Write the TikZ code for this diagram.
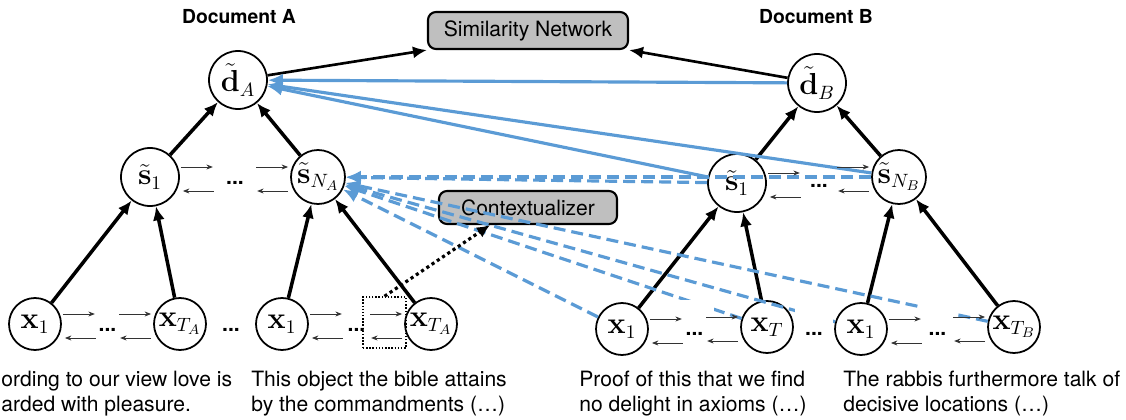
\documentclass[tikz,border=0pt]{standalone}
\usepackage{amsmath,amssymb}
\usepackage[no-math]{fontspec}
\setmainfont{TeX Gyre Heros}
\usetikzlibrary{arrows.meta,calc}
\definecolor{attn}{HTML}{5B9BD5}

\begin{document}
\begin{tikzpicture}[x=0.2mm,y=-0.2mm,
	doc/.style={circle,draw,line width=1pt,fill=white,inner sep=0pt,minimum size=11.6mm,font=\fontsize{16}{18}\selectfont},
	sent/.style={doc,minimum size=10.8mm},
	word/.style={doc,minimum size=10.4mm},
	netbox/.style={draw,line width=1.2pt,rounded corners=1.6mm,fill=gray!50,inner sep=0pt,font=\fontsize{12}{14}\selectfont},
	feed/.style={-{Latex[length=2.8mm,width=2.4mm]},line width=2pt},
	seq/.style={-{Stealth[length=1.3mm,width=1mm]},line width=0.5pt,black!80},
	attnline/.style={-{Latex[length=3mm,width=2.6mm]},line width=1.8pt,attn},
	attndash/.style={attnline,dash pattern=on 2.4mm off 1.2mm},
	sdots/.style={anchor=base,inner sep=0pt,font=\fontsize{12}{14}\selectfont\bfseries},
	xdots/.style={sdots,fill=white,minimum width=7.6mm,text height=7mm,text depth=1.5mm},
	txt/.style={anchor=north west,align=left,inner sep=0pt,font=\fontsize{12}{14.2}\selectfont},
	heading/.style={font=\fontsize{11}{13}\selectfont\bfseries}]
	\useasboundingbox (0,0) rectangle (1126,419);

	% headings and networks
	\node[heading] (headA) at (239,17) {Document A};
	\node[heading] (headB) at (816,17) {Document B};
	\node[netbox,minimum width=40mm,minimum height=7.4mm] (sim) at (528,30.5) {Similarity Network};
	\node[netbox,minimum width=35.6mm,minimum height=6.6mm] (ctx) at (528,207.5) {Contextualizer};

	% document and sentence nodes
	\node[doc] (dA) at (238,80) {$\tilde{\mathbf{d}}_A$};
	\node[doc] (dB) at (817,83) {$\tilde{\mathbf{d}}_B$};
	\node[doc] (sA1) at (150,177) {$\tilde{\mathbf{s}}_1$};
	\node[sent] (sAN) at (318,177) {$\tilde{\mathbf{s}}_{N_A}$};
	\node[doc] (sB1) at (737,183) {$\tilde{\mathbf{s}}_1$};
	\node[sent] (sBN) at (899,177) {$\tilde{\mathbf{s}}_{N_B}$};

	% word nodes
	\node[word] (wA11) at (35,324) {$\mathbf{x}_1$};
	\node[word] (wA1T) at (180,324) {$\mathbf{x}_{T_A}$};
	\node[word] (wAN1) at (282,324) {$\mathbf{x}_1$};
	\node[word] (wANT) at (431,324) {$\mathbf{x}_{T_A}$};
	\node[word] (wB11) at (622,329) {$\mathbf{x}_1$};
	\node[word] (wB1T) at (767,327) {$\mathbf{x}_T$};
	\node[word] (wBN1) at (861,329) {$\mathbf{x}_1$};
	\node[word] (wBNT) at (1014,327) {$\mathbf{x}_{T_B}$};

	% sentences
	\node[txt] (textA1) at (1,371) {ording to our view love is\\arded with pleasure.};
	\node[txt] (textAN) at (251,371) {This object the bible attains\\by the commandments (…)};
	\node[txt] (textB1) at (579,371) {Proof of this that we find\\no delight in axioms (…)};
	\node[txt] (textBN) at (843,371) {The rabbis furthermore talk of\\decisive locations (…)};

	% hierarchy
	\draw[feed]
		(sA1) edge (dA) (sAN) edge (dA)
		(sB1) edge (dB) (sBN) edge (dB)
		(wA11) edge (sA1) (wA1T) edge (sA1)
		(wAN1) edge (sAN) (wANT) edge (sAN)
		(wB11) edge (sB1) (wB1T) edge (sB1)
		(wBN1) edge (sBN) (wBNT) edge (sBN);
	\draw[feed,line width=1.5pt]
		(dA) edge (sim.south west)
		(dB) edge (sim.south east);

	% cross-document links
	\draw[attnline]
		(dB) edge (dA) (sB1) edge (dA) (sBN) edge (dA);
	\draw[attndash]
		(sB1) edge (sAN) (sBN) edge (sAN)
		(wB11) edge (sAN) (wB1T) edge (sAN)
		(wBN1) edge (sAN) (wBNT) edge (sAN);

	% sequence links
	\foreach \l/\r/\d in {sA1/sAN/sdots, sB1/sBN/sdots, wA11/wA1T/xdots, wAN1/wANT/xdots, wB11/wB1T/xdots, wBN1/wBNT/xdots} {
		\node[\d] (dots-\l) at ($(\l.east)!0.5!(\r.west)+(0,7)$) {...};
		\draw[seq] ($(\l.east)+(1,-10)$) -- +(32,0);
		\draw[seq] ($(\l.east)+(34,14)$) -- +(-31,0);
		\draw[seq] ($(\r.west)+(-34,-10)$) -- +(32,0);
		\draw[seq] ($(\r.west)+(-2,14)$) -- +(-31,0);
	}
	\node[xdots] (gapA) at ($(wA1T.east)!0.5!(wAN1.west)+(0,7)$) {...};
	\node[xdots] (gapB) at ($(wB1T.east)!0.5!(wBN1.west)+(0,7)$) {...};

	% context window
	\node[draw,densely dotted,line width=0.8pt,minimum width=8.6mm,minimum height=10.2mm] (win) at (384.5,322.5) {};
	\draw[-{Latex[length=2.6mm,width=2.4mm]},line width=1.8pt,dash pattern=on 1.8pt off 1.8pt]
		(win.north) -- ($(ctx.south)+(-38,0)$);
\end{tikzpicture}
\end{document}
